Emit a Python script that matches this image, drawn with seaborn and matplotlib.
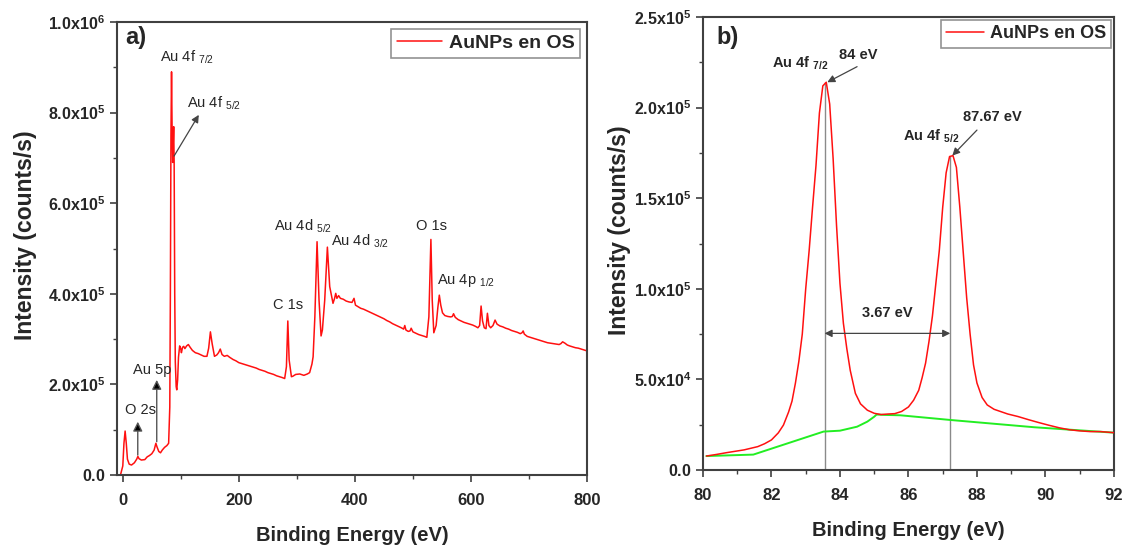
import numpy as np
import pandas as pd
import matplotlib
matplotlib.use("Agg")
import matplotlib.pyplot as plt
from matplotlib.ticker import FuncFormatter, MultipleLocator
import seaborn as sns

# ---------------- survey spectrum (panel a) ----------------
survey_ev = [
    -4, 0, 2, 4, 6, 8, 11, 15, 20, 24, 26, 28, 32, 38, 42, 46, 50, 54, 57, 59,
    62, 65, 68, 72, 76, 79, 81, 82, 83, 84, 85, 86, 87, 87.7, 88.5, 89.5, 90.5,
    92, 93, 94.5, 96, 98, 100, 101, 103, 105, 107, 110, 113, 116, 120, 125, 130,
    135, 140, 145, 148, 151, 154, 158, 162, 165, 168, 171, 175, 180, 184, 190,
    195, 200, 205, 210, 215, 220, 225, 230, 235, 240, 245, 250, 255, 260, 265,
    270, 275, 279, 282, 284.4, 286.7, 290.6, 293, 298, 305, 312, 318, 322, 326,
    328, 331, 334.8, 336.5, 338.2, 341.7, 344, 348, 352.6, 356.6, 362.3, 365,
    367, 369, 372, 375, 380, 385, 390, 395, 398.5, 401, 405, 410, 415, 420, 425,
    430, 435, 440, 445, 450, 455, 460, 465, 470, 475, 480, 484, 486, 488, 492,
    495, 497, 500, 505, 510, 515, 520, 524, 527.5, 529, 531, 533.3, 536, 540,
    543, 545.5, 548, 551, 555, 560, 565, 568, 570, 573, 578, 583, 588, 593, 598,
    603, 608, 612, 615, 617.5, 620, 623, 626, 628.4, 631, 634, 638, 641.6, 645,
    650, 655, 660, 665, 670, 675, 680, 685, 688, 690, 692, 697, 702, 707, 712,
    717, 722, 727, 732, 737, 742, 747, 752, 755, 758, 762, 766, 770, 775, 780,
    785, 790, 795, 800,
]
survey_kcps = [
    0, 20, 70, 97, 70, 35, 24, 22, 27, 35, 41, 36, 33, 34, 40, 43, 47, 55, 70, 62,
    52, 49, 55, 61, 65, 70, 150, 400, 750, 890, 760, 690, 740, 769, 690, 400, 250,
    195, 188, 210, 260, 285, 278, 270, 282, 284, 279, 285, 288, 282, 275, 270, 268,
    265, 262, 262, 280, 316, 290, 262, 265, 270, 278, 266, 262, 264, 260, 255,
    252, 248, 246, 244, 242, 240, 238, 236, 233, 231, 229, 226, 224, 222, 219,
    217, 215, 213, 239, 340, 254, 217, 218, 222, 223, 220, 223, 226, 245,
    261, 349, 515, 450, 386, 307, 320, 386, 503, 416, 379, 390,
    401, 390, 396, 390, 388, 384, 382, 381, 390, 375, 372, 368, 366, 363, 360,
    357, 354, 351, 348, 345, 341, 338, 334, 331, 328, 325, 322, 330, 320, 317,
    318, 324, 316, 313, 310, 308, 306, 304, 349, 420, 520, 386, 314, 330,
    370, 397, 375, 358, 352, 350, 349, 350, 356, 348, 343, 340, 337, 335, 333,
    331, 328, 325, 330, 373, 340, 325, 323, 357, 330, 325, 330, 342, 333,
    329, 327, 324, 322, 319, 317, 315, 312, 314, 318, 311, 306, 304, 302, 300,
    298, 296, 294, 292, 291, 290, 289, 288, 290, 294, 291, 287, 285, 283, 281,
    280, 278, 276, 274,
]

# ---------------- Au 4f high resolution (panel b) ----------------
au4f_ev = [
    80.1, 80.4, 80.7, 81.0, 81.2, 81.4, 81.6, 81.8, 82.0, 82.2, 82.35, 82.5,
    82.6, 82.7, 82.8, 82.9, 83.0, 83.1, 83.2, 83.3, 83.4, 83.5, 83.6, 83.7,
    83.8, 83.9, 84.0, 84.1, 84.2, 84.3, 84.45, 84.6, 84.8, 85.0, 85.2, 85.4,
    85.6, 85.8, 86.0, 86.15, 86.3, 86.4, 86.5, 86.6, 86.7, 86.8, 86.9, 87.0,
    87.1, 87.2, 87.3, 87.4, 87.5, 87.6, 87.7, 87.8, 87.9, 88.0, 88.15, 88.3,
    88.5, 88.7, 88.9, 89.2, 89.5, 89.8, 90.1, 90.4, 90.7, 91.0, 91.3, 91.6, 92.0,
]
au4f_kcps = [
    7.7, 8.6, 9.6, 10.5, 11.1, 12.0, 12.9, 14.5, 16.6, 20.5, 24.8, 32,
    38, 48, 60, 75, 100, 121, 145, 168, 197, 212, 214, 202,
    172, 135, 103, 81, 67, 55, 42.3, 36.5, 33, 31.3, 30.6, 30.9,
    31.1, 32.3, 34.8, 38.5, 44, 51, 59, 71, 85, 103, 121, 145,
    164, 173, 173.5, 167, 145, 120, 95, 75, 58, 48, 40, 35.9,
    33.5, 32.2, 30.9, 29.5, 27.8, 26.2, 24.7, 23.3, 22.2, 21.6, 21.2, 21.2, 20.6,
]
background_ev = [80.1, 81.47, 83.52, 84.0, 84.5, 84.8, 85.0, 85.07, 85.3, 85.76, 87.23, 89.67, 92.0]
background_kcps = [7.7, 8.5, 21.2, 21.7, 23.9, 26.7, 29.4, 30.6, 30.4, 30.2, 27.6, 23.6, 20.6]

peak_ev = [83.55, 87.22]
peak_kcps = [214, 173.5]
peak_labels = ["84 eV", "87.67 eV"]

series_name = "AuNPs en OS"

survey = pd.DataFrame({"ev": survey_ev, "cps": np.array(survey_kcps) * 1e3})
au4f = pd.DataFrame({"ev": au4f_ev, "cps": np.array(au4f_kcps) * 1e3})
shirley = pd.DataFrame({"ev": background_ev, "cps": np.array(background_kcps) * 1e3})
peak_cps = np.array(peak_kcps) * 1e3

# ---------------- style ----------------
sns.set_style("ticks")
base = "Liberation Sans"
plt.rcParams["font.family"] = [base, "DejaVu Sans"]
plt.rcParams["mathtext.fontset"] = "custom"
plt.rcParams["mathtext.rm"] = base
plt.rcParams["mathtext.it"] = base + ":italic"
plt.rcParams["mathtext.bf"] = base + ":bold"

spine_col = "#404040"
red = "#ff1010"
green = "#22ee22"


def sci_label(v, pos):
    if v < 0:
        return ""
    if abs(v) < 1e-9:
        return r"$\mathbf{0.0}$"
    e = int(np.floor(np.log10(v) + 1e-9))
    m = v / 10 ** e
    return r"$\mathbf{%.1fx10^{%d}}$" % (m, e)


def style_axes(ax):
    for s in ax.spines.values():
        s.set_color(spine_col)
        s.set_linewidth(1.5)
    ax.tick_params(which="major", direction="out", length=5, width=1.2,
                   color=spine_col, top=False, right=False)
    ax.tick_params(axis="x", which="major", pad=8, labelsize=12)
    ax.tick_params(axis="y", which="major", labelsize=11.5)
    ax.tick_params(which="minor", direction="out", length=3, width=1.0,
                   color=spine_col, top=False, right=False)
    for lab in ax.get_xticklabels():
        lab.set_fontweight("bold")
    ax.set_xlabel("Binding Energy (eV)", fontsize=14.5, fontweight="bold",
                  labelpad=13)
    ax.set_ylabel("Intensity (counts/s)", fontsize=16.5, fontweight="bold")
    ax.yaxis.set_major_formatter(FuncFormatter(sci_label))


def style_legend(leg):
    frame = leg.get_frame()
    frame.set_edgecolor("#777777")
    frame.set_linewidth(1.2)


fig = plt.figure(figsize=(11.26, 5.49), dpi=100)
ax1 = fig.add_axes([0.1039, 0.1348, 0.4174, 0.8251])
ax2 = fig.add_axes([0.6243, 0.1439, 0.3650, 0.8251])

# ---------------- panel a ----------------
sns.lineplot(data=survey, x="ev", y="cps", ax=ax1, color=red, lw=1.1,
             label=series_name, sort=False)
ax1.set_xlim(-10, 800)
ax1.set_ylim(0, 1.0e6)
ax1.xaxis.set_major_locator(MultipleLocator(200))
ax1.xaxis.set_minor_locator(MultipleLocator(100))
ax1.yaxis.set_major_locator(MultipleLocator(2e5))
ax1.yaxis.set_minor_locator(MultipleLocator(1e5))
style_axes(ax1)
ax1.yaxis.set_label_coords(-0.170, 0.53)

leg1 = ax1.legend(loc="upper right", frameon=True, fancybox=False,
                  handlelength=2.3, handletextpad=0.35, borderaxespad=0.35,
                  borderpad=0.3, prop={"weight": "bold", "size": 14})
style_legend(leg1)

ax1.text(0.017, 0.965, "a)", transform=ax1.transAxes, fontsize=17,
         fontweight="bold", va="center", ha="left")

anno_size = 10.5
survey_labels = [
    (64, 923e3, r"Au 4f $_{7/2}$"),
    (260, 550e3, r"Au 4d $_{5/2}$"),
    (359.5, 515e3, r"Au 4d $_{3/2}$"),
    (258.6, 375e3, "C 1s"),
    (504.6, 550e3, "O 1s"),
    (540.7, 430e3, r"Au 4p $_{1/2}$"),
    (110.6, 821e3, r"Au 4f $_{5/2}$"),
    (17.7, 232e3, "Au 5p"),
    (4, 143.5e3, "O 2s"),
]
for x, y, t in survey_labels:
    ax1.text(x, y, t, fontsize=anno_size, ha="left", va="center")

arrow_kw = dict(arrowstyle="-|>", color="#444444", lw=0.9, mutation_scale=11,
                shrinkA=0, shrinkB=0)
head_kw = dict(arrowstyle="-|>", color="#555555", lw=1.0, mutation_scale=14,
               shrinkA=0, shrinkB=0, fc="black", ec="#555555")
ax1.annotate("", xy=(131, 795e3), xytext=(88.3, 704e3), arrowprops=arrow_kw)
ax1.annotate("", xy=(58.5, 210e3), xytext=(58.5, 73.5e3), arrowprops=head_kw)
ax1.annotate("", xy=(25.8, 117.7e3), xytext=(25.8, 44e3), arrowprops=head_kw)

# ---------------- panel b ----------------
ax2.vlines(peak_ev, 0, peak_cps, color="#8a8a8a", lw=1.0, zorder=1)
sns.lineplot(data=au4f, x="ev", y="cps", ax=ax2, color=red, lw=1.1,
             label=series_name, sort=False, zorder=3)
sns.lineplot(data=shirley, x="ev", y="cps", ax=ax2, color=green, lw=1.4,
             legend=False, sort=False, zorder=2)
ax2.set_xlim(80, 92)
ax2.set_ylim(0, 2.5e5)
ax2.xaxis.set_major_locator(MultipleLocator(2))
ax2.xaxis.set_minor_locator(MultipleLocator(1))
ax2.yaxis.set_major_locator(MultipleLocator(5e4))
ax2.yaxis.set_minor_locator(MultipleLocator(2.5e4))
style_axes(ax2)
ax2.yaxis.set_label_coords(-0.175, 0.53)

leg2 = ax2.legend(loc="upper right", frameon=True, fancybox=False,
                  handlelength=2.1, handletextpad=0.3, borderaxespad=0.15,
                  borderpad=0.3, prop={"weight": "bold", "size": 13})
style_legend(leg2)

ax2.text(0.033, 0.954, "b)", transform=ax2.transAxes, fontsize=17,
         fontweight="bold", va="center", ha="left")

bold_kw = dict(fontsize=anno_size, fontweight="bold", va="center")
ax2.text(82.01, 224.6e3, r"Au 4f $_{\mathbf{7/2}}$", ha="left", **bold_kw)
ax2.text(85.85, 184e3, r"Au 4f $_{\mathbf{5/2}}$", ha="left", **bold_kw)
ax2.text(84.53, 229e3, peak_labels[0], ha="center", **bold_kw)
ax2.text(88.45, 195e3, peak_labels[1], ha="center", **bold_kw)
ax2.annotate("", xy=(peak_ev[0] + 0.08, peak_cps[0]),
             xytext=(84.5, 222.6e3), arrowprops=arrow_kw)
ax2.annotate("", xy=(peak_ev[1] + 0.06, peak_cps[1]),
             xytext=(88.0, 187.6e3), arrowprops=arrow_kw)

sep = peak_ev[1] - peak_ev[0]
ax2.annotate("", xy=(peak_ev[1], 75.4e3), xytext=(peak_ev[0], 75.4e3),
             arrowprops=dict(arrowstyle="<|-|>", color="#444444", lw=0.9,
                             mutation_scale=11, shrinkA=0, shrinkB=0))
ax2.text(sum(peak_ev) / 2, 86.6e3, f"{sep:.2f} eV", ha="center", **bold_kw)

fig.savefig("out.png", dpi=100)
